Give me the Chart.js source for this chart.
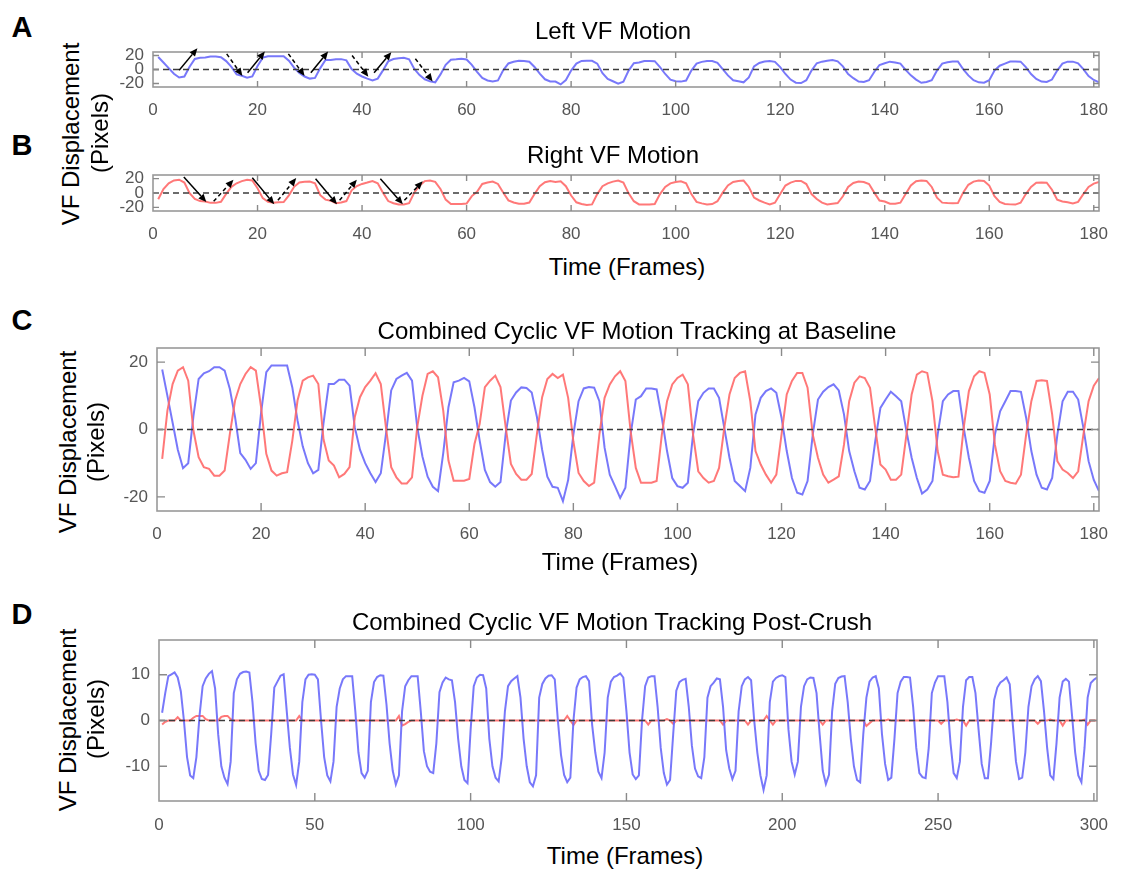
<!DOCTYPE html>
<html><head><meta charset="utf-8">
<script src="https://cdn.jsdelivr.net/npm/chart.js@4.4.1/dist/chart.umd.min.js"></script>
<style>
html,body{margin:0;padding:0;background:#fff;width:1127px;height:869px;overflow:hidden;}
body{position:relative;font-family:"Liberation Sans",Arial,sans-serif;}
canvas{position:absolute;}
.t{position:absolute;white-space:nowrap;transform:translate(-50%,-50%);color:#000;line-height:1;z-index:2;}
.lab{font-weight:bold;font-size:29px;}
.ti{font-size:24px;}
.yt{transform:translate(-50%,-50%) rotate(-90deg);}
</style></head><body>
<div class="t lab" style="left:22px;top:27px">A</div>
<div class="t lab" style="left:22px;top:145px">B</div>
<div class="t lab" style="left:22px;top:320px">C</div>
<div class="t lab" style="left:22px;top:614px">D</div>
<div class="t ti" style="left:613px;top:31px">Left VF Motion</div>
<div class="t ti" style="left:613px;top:155px">Right VF Motion</div>
<div class="t ti" style="left:637px;top:331px">Combined Cyclic VF Motion Tracking at Baseline</div>
<div class="t ti" style="left:612px;top:622px">Combined Cyclic VF Motion Tracking Post-Crush</div>
<div class="t ti" style="left:627px;top:267px">Time (Frames)</div>
<div class="t ti" style="left:620px;top:562px">Time (Frames)</div>
<div class="t ti" style="left:625px;top:856px">Time (Frames)</div>
<div class="t ti yt" style="left:71px;top:134px">VF Displacement</div>
<div class="t ti yt" style="left:100px;top:133px">(Pixels)</div>
<div class="t ti yt" style="left:68px;top:442px">VF Displacement</div>
<div class="t ti yt" style="left:96px;top:442px">(Pixels)</div>
<div class="t ti yt" style="left:68px;top:720px">VF Displacement</div>
<div class="t ti yt" style="left:96px;top:719px">(Pixels)</div>
<script>
// ---------- DATA ----------
// Baseline, frames 1..181
const LEFT_VF = [
17.8,10,2,-6,-11.5,-10,4,15,16.7,17.3,18.5,18.5,17.5,12,3.7,-7,-9,-11.7,-10,5,
17,19,19,19,19,12.5,2.7,-5,-10,-13,-12,2,13.5,13.5,14.8,14.8,13,0.7,-6,-10,
-13,-15.6,-13,-1.3,11.6,15,16,16.8,14.5,0.7,-8,-14,-17,-18.3,-7,6.6,14,14.5,15.3,14.3,
6.6,-3.3,-12,-15.6,-17,-15.6,-1.3,8.6,11,12.5,12.3,11,3.7,-6,-14,-17,-17.3,-21.3,-15,-1.5,
8.4,12.2,12.6,12.4,8.4,-5.4,-13.4,-16.8,-20.3,-17.3,-1.5,8.9,9.9,12.2,12.2,11.9,3.5,-6.4,-14.4,-16.8,
-17.3,-15.8,-1.5,8.4,10.9,12.2,12.2,9.4,0.5,-8.4,-15.3,-16.8,-18.3,-11.4,4.5,9.4,11.4,12.2,10.9,3.5,
-6.4,-14.4,-18.8,-19.3,-15.3,-1.5,8.9,11.2,12.6,13.4,11.6,4.5,-6.4,-12.4,-17.3,-17.8,-15.3,-3.5,6.4,8.9,
11.2,9.9,8.4,-0.5,-8.4,-14.4,-19,-17.8,-15.3,-1.5,8.4,10.4,11.4,11.4,0.5,-8.4,-15.3,-18.3,-18.8,-15.3,
-1.5,5.4,8.4,11.4,11.4,11.2,3.5,-6.4,-13.4,-17.3,-17.8,-14.4,-1.5,8.4,11.2,11.2,8.9,0.5,-9.4,-15,
-18.3];
const RIGHT_VF = [
-8.7,5.6,13.5,17.5,18.5,14.5,-0.3,-8.2,-11.2,-11.7,-13.7,-13.7,-12.2,-1.3,8.6,13.5,16.5,18.5,17.5,6.6,
-7.2,-12.2,-13.7,-13,-12.7,-3.3,8.6,14.5,15.5,16,13.5,-3,-9.2,-10.7,-14.2,-13.2,-11.2,3.7,9.6,12.6,
14.5,16.7,13.5,0.5,-11.2,-14.2,-16,-16,-14.2,0.7,10,16.5,17.3,15.5,5.6,-9.2,-15.2,-15.2,-15.2,-14.7,
-4.3,1.7,12.6,14.5,16,12.6,0.7,-10.2,-13.2,-14.9,-14.9,-13.2,-1.3,9.6,15,16.5,15.3,16.3,9.4,-3.5,
-12.9,-15.3,-16.8,-15.8,-1.5,9.4,13.4,15.8,17.3,14.4,-0.5,-11.4,-15.8,-15.8,-15.8,-15.3,-1.5,8.4,13.4,15.3,
16.3,13.4,-1.5,-12.4,-14.4,-15.8,-15.3,-11.4,0.5,10.4,15.3,16.8,17.3,8.4,-6.4,-10.4,-13.4,-15.8,-13.4,-1.5,
10.4,14.4,16.8,16.8,12.4,-1.5,-8.4,-13.4,-15.8,-14.9,-13.9,-4.5,8.4,13.9,15.8,15.3,12.4,0.5,-10.4,-11.9,
-14.9,-14.9,-13.4,-1.5,10.4,16.3,17.3,16.8,8.4,-6.4,-13.4,-13.9,-14.2,-14,0.5,11.4,15.8,17.3,16.8,10.4,
-4.5,-12.4,-15.3,-15.8,-16.1,-13.4,-1.5,8.4,14.4,14.6,14.4,4.5,-9.4,-11.9,-12.9,-14.4,-12.4,-1.5,8.4,13,
15.3];
// Post-crush, frames 1..301
const POST_LEFT = [
1.7,6,9.7,10.1,10.5,9.4,6.4,0,-8,-12,-12.6,-8,1,7.5,9.2,10.2,10.8,7,-3.1,-10,
-12.5,-13.9,-9,6,9,10.2,10.6,10.7,10.5,4,-5,-11,-12.8,-13,-11.9,-3,7.2,8.5,9.8,10.1,
2,-6,-11.8,-14.1,-9,4,9,10,10.1,10,9,0,-8,-12,-13.3,-9,3,7,9,9.7,
9.7,9.7,2,-7,-11.5,-12.5,-11,4,8.4,9.5,9.9,9.8,3.5,-5,-11,-14,-12,2,7.5,8.8,
9.7,9.7,9.7,2,-6.7,-10,-11.2,-11.5,-5,6.2,8.3,9.4,9,8.8,4,-4,-10,-13,-13.7,-2,
7.5,9.4,10,9.9,7,-4,-10,-12.5,-13.3,-8,2,7.5,8.6,9.2,9.7,5,-4,-10,-13.5,-14.4,
-12,5,8,9.2,9.8,9.9,9,0,-7.5,-11.9,-13.5,-12.5,0,7.2,9,9.5,9.7,8.6,-1,-7,
-11.2,-12.6,-7,5,8.5,9.5,9.8,10.3,9.4,2,-7,-11.8,-12.8,-12,0,7.5,9.4,9.7,9.7,3,
-6,-11.5,-14,-13,-3,6.5,8.4,8.9,9.1,3,-5.5,-10.5,-12.2,-12.6,-8,5,7.5,8.3,9.2,9,
3,-6.5,-10.5,-12.8,-11,2,7.5,9,9.5,8.8,0,-7,-12,-15.2,-12,4,8.5,9.3,9.7,9.9,
9.5,-2,-9,-11.8,-9,3,7.5,9,9.4,9.3,6,-3,-11,-13.9,-11.9,2,8,9.3,9.6,9.7,
4,-4,-10,-13,-13.5,-3,5,8.5,9.4,9.7,7,-3,-9.5,-13,-12.5,-4,6,8.5,9.5,9.5,
9.4,3,-6,-11.5,-12.4,-12.6,-6,6,8.3,9.7,9.7,9.7,4,-5,-11.5,-12.6,-9,3,8.8,9.5,
9.5,6,-2,-9.5,-12.6,-12.6,-5,4.5,7.2,8.3,8.8,9.4,7.9,-1,-9,-12.8,-12.5,-7,3,7.5,
9,9.7,8.6,2,-6,-12,-12.8,-5,5,8.5,9.1,8.5,1,-7,-12,-13.5,-6,5,8.2,8.9,
9.4];
const POST_RIGHT = [
-0.9,-0.3,0,0,0,0.7,0,0,0,0,0.6,1,1,1,0.3,0,0,0,0,0.8,
1,1,0.3,0,0,0,0,0,0,0,0,0,0,0,0,0,0,0,0,0,
0,0,0,0,1,0,0,0,0,0,0,0,0,0,0,0,0,0,0,0,
0,0,0,0,0,0,0,0,0,0,0,0,0,0,0,0,1,-1.1,-0.8,-0.3,
0,0,0,0,0,0,0,0,0,0,0,0,0,0,0,0,0,0,0,0,
0,0,0,0,0,0,0,0,0,0,0,0,0,0,0,0,0,0,0,0,
0,0,0,0,0,0,0,0,0,0,1,0,-1,0,0,0,0,0,0,0,
0,0,0,0,0,0,0,0,0,0,0,0,0,0,0,0,-0.9,0,0,0,
0,0,0.3,0,-0.7,0,0,0,0,0,0,0,0,0,0,0,0,0,0,0,
-0.9,0,0,0,0,0,0,0,-0.9,0,0,0,0,0,1,0,-0.9,0,0,0,
0,0,0,0,0,0,0,0,0,0,0,0,-0.9,0,0,0,0,0,0,0,
0,0,0,0,0,0,-1.2,-0.6,0,0,0,0,0,0.2,0,0,0,0,0,0,
0,0,0,0,0,0,0,0,0,0,-0.7,0,0,0,0,0.2,0,0,-1.1,0,
0,0,0,0,0,0,0,0,0,0,0,0,0,0,0,0,0,0,0,0,
0,-0.7,0,0,0,0.2,0,0,0,-1.1,0,0,0,0,0,0,0.2,-0.9,0,0,
0];
// Tick labels
const X_TICKS_BASE = [0,20,40,60,80,100,120,140,160,180];
const X_TICKS_POST = [0,50,100,150,200,250,300];
const Y_TICKS_AB = [-20,0,20];
const Y_TICKS_C = [-20,0,20];
const Y_TICKS_D = [-10,0,10];
const ZERO_LEVEL = 0;
// Motion arrows: [frameStart, valueStart, frameEnd, valueEnd, dashed]
const ARROWS_LEFT = [
[5.0,-1,8.5,30.4,0],[14.1,22.4,17.1,-9.3,1],[18.1,-4.7,21.4,25.7,0],[25.9,22.4,29,-9.3,1],
[30.2,-4.7,33.5,25.7,0],[38.1,20,41.2,-10.3,1],[42.3,-4.7,45.6,24.8,0],[50.2,15.4,53.5,-17.3,1]];
const ARROWS_RIGHT = [
[5.9,22.2,10.2,-12.5,0],[11.6,-11.6,15.4,18.5,1],[19,21.3,23.2,-15.7,0],[23.9,-10.2,27.4,20.8,1],
[31.1,19.9,35.2,-15.7,0],[35.7,-10.2,39,18.5,1],[43.5,19.9,47.8,-15.7,0],[48.1,-10.2,51.6,16.2,1]];

// ---------- RENDERING ----------
const BLUE = 'rgba(105,105,250,0.9)';
const RED = 'rgba(255,105,105,0.9)';
const FONT = {family:'"Liberation Sans", Arial, sans-serif', size:17};

const boxPlugin = {
  id:'matlabBox',
  afterDatasetsDraw(chart, args, o){
    const ctx = chart.ctx, a = chart.chartArea, xs = chart.scales.x, ys = chart.scales.y;
    ctx.save();
    const y0 = ys.getPixelForValue(ZERO_LEVEL);
    ctx.strokeStyle = '#3c3c3c'; ctx.lineWidth = 1.3; ctx.setLineDash([6,4]);
    ctx.beginPath(); ctx.moveTo(a.left, y0); ctx.lineTo(a.right, y0); ctx.stroke();
    ctx.setLineDash([]);
    ctx.strokeStyle = '#999'; ctx.lineWidth = 1.6;
    ctx.strokeRect(a.left, a.top, a.right - a.left, a.bottom - a.top);
    const L = o.tick;
    ctx.lineWidth = 1.4; ctx.strokeStyle = '#8a8a8a';
    ctx.beginPath();
    o.xTicks.forEach(v=>{
      const px = xs.getPixelForValue(v);
      if (px > a.left + 2 && px < a.right - 2) {
        ctx.moveTo(px, a.bottom); ctx.lineTo(px, a.bottom - L);
        ctx.moveTo(px, a.top); ctx.lineTo(px, a.top + L);
      }
    });
    o.yTicks.forEach(v=>{
      const py = ys.getPixelForValue(v);
      if (py > a.top + 1 && py < a.bottom - 1) {
        ctx.moveTo(a.left, py); ctx.lineTo(a.left + L, py);
        ctx.moveTo(a.right, py); ctx.lineTo(a.right - L, py);
      }
    });
    ctx.stroke();
    (o.arrows || []).forEach(ar=>{
      const x1 = xs.getPixelForValue(ar[0]), y1 = ys.getPixelForValue(ar[1]);
      const x2 = xs.getPixelForValue(ar[2]), y2 = ys.getPixelForValue(ar[3]);
      const ang = Math.atan2(y2 - y1, x2 - x1), hl = 8, hw = 3.5;
      const bx = x2 - hl*Math.cos(ang), by = y2 - hl*Math.sin(ang);
      ctx.strokeStyle = '#000'; ctx.fillStyle = '#000'; ctx.lineWidth = 1.5;
      ctx.setLineDash(ar[4] ? [4,3] : []);
      ctx.beginPath(); ctx.moveTo(x1, y1); ctx.lineTo(bx, by); ctx.stroke();
      ctx.setLineDash([]);
      ctx.beginPath();
      ctx.moveTo(x2, y2);
      ctx.lineTo(bx + hw*Math.sin(ang), by - hw*Math.cos(ang));
      ctx.lineTo(bx - hw*Math.sin(ang), by + hw*Math.cos(ang));
      ctx.closePath(); ctx.fill();
    });
    ctx.restore();
  }
};

function toXY(arr){ return arr.map((v,i)=>({x:i+1, y:v})); }

function makePanel(p){
  const YW = 60, R = 30, T = 20, XH = 40;
  const cv = document.createElement('canvas');
  const w = (p.box[2]-p.box[0]) + YW + R, h = T + (p.box[3]-p.box[1]) + XH;
  cv.width = w; cv.height = h;
  cv.style.left = (p.box[0]-YW)+'px'; cv.style.top = (p.box[1]-T)+'px';
  cv.style.width = w+'px'; cv.style.height = h+'px';
  document.body.appendChild(cv);
  new Chart(cv.getContext('2d'), {
    type:'line',
    data:{datasets: p.series.map(s=>({data:toXY(s.data), borderColor:s.color, borderWidth:2,
      pointRadius:0, tension:0, fill:false}))},
    options:{
      responsive:false, animation:false, devicePixelRatio:1,
      layout:{padding:{left:0,right:R,top:T,bottom:0}},
      plugins:{legend:{display:false}, tooltip:{enabled:false}, title:{display:false},
        matlabBox:{xTicks:p.xTicks, yTicks:p.yTicks, tick:p.tick, arrows:p.arrows}},
      scales:{
        x:{type:'linear', min:p.xr[0], max:p.xr[1], grid:{display:false, drawTicks:false}, border:{display:false},
          ticks:{autoSkip:false, maxRotation:0, padding:p.xpad, font:FONT, color:'#555'},
          afterBuildTicks:s=>{s.ticks = p.xTicks.map(v=>({value:v}));},
          afterFit:s=>{s.height = XH;}},
        y:{type:'linear', min:p.yr[0], max:p.yr[1], grid:{display:false, drawTicks:false}, border:{display:false},
          ticks:{autoSkip:false, padding:9, font:FONT, color:'#555'},
          afterBuildTicks:s=>{s.ticks = p.yTicks.map(v=>({value:v}));},
          afterFit:s=>{s.width = YW;}}
      }
    },
    plugins:[boxPlugin]
  });
}

makePanel({box:[153,52,1099,87], xr:[0,181], yr:[-25,25], xTicks:X_TICKS_BASE, yTicks:Y_TICKS_AB, tick:6, xpad:13,
  series:[{data:LEFT_VF, color:BLUE}], arrows:ARROWS_LEFT});
makePanel({box:[153,175,1099,211], xr:[0,181], yr:[-25,25], xTicks:X_TICKS_BASE, yTicks:Y_TICKS_AB, tick:6, xpad:13,
  series:[{data:RIGHT_VF, color:RED}], arrows:ARROWS_RIGHT});
makePanel({box:[157,348,1099,511], xr:[0,181], yr:[-24.2,24.2], xTicks:X_TICKS_BASE, yTicks:Y_TICKS_C, tick:8, xpad:13,
  series:[{data:RIGHT_VF, color:RED},{data:LEFT_VF, color:BLUE}]});
makePanel({box:[159,640,1097,801], xr:[0,301], yr:[-17.6,17.6], xTicks:X_TICKS_POST, yTicks:Y_TICKS_D, tick:8, xpad:14,
  series:[{data:POST_LEFT, color:BLUE},{data:POST_RIGHT, color:RED}]});
</script>
</body></html>
